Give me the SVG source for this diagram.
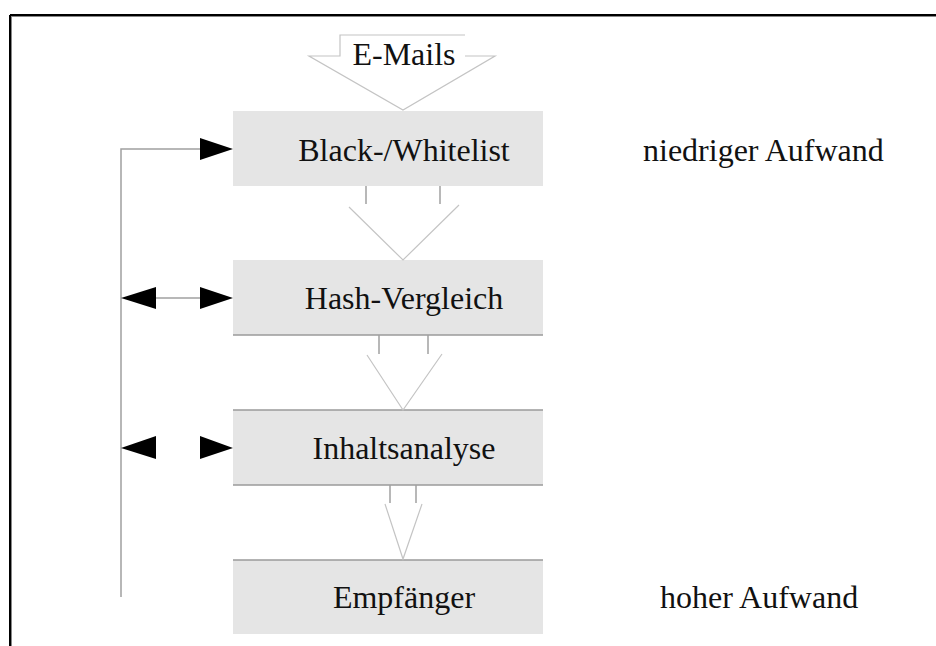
<svg xmlns="http://www.w3.org/2000/svg" width="936" height="646" viewBox="0 0 936 646">
  <style>
    .txt { font-family: "Liberation Serif", "Times New Roman", serif; font-size: 32px; fill: #111; }
    .mid { text-anchor: middle; }
    .box { fill: #e5e5e5; }
    .edge { stroke: #9a9a9a; stroke-width: 1.5; fill: none; }
    .flow { stroke: #c4c4c4; stroke-width: 1.2; fill: none; }
    .stub { stroke: #a0a0a0; stroke-width: 1.5; fill: none; }
    .fb { stroke: #a0a0a0; stroke-width: 1.5; fill: none; }
    .head { fill: #000; }
  </style>

  <rect width="936" height="646" fill="#fff"/>

  <!-- frame -->
  <g id="frame">
    <line x1="10" y1="15" x2="936" y2="15" stroke="#000" stroke-width="2"/>
    <line x1="10" y1="16.5" x2="936" y2="16.5" stroke="#888" stroke-width="1"/>
    <line x1="10" y1="15" x2="10" y2="646" stroke="#000" stroke-width="2"/>
    <line x1="11.5" y1="16" x2="11.5" y2="646" stroke="#888" stroke-width="1"/>
  </g>

  <!-- input label with arrow -->
  <g id="emails">
    <polyline class="flow" stroke="#999" points="465,35 340,35 340,56 309,56 403,110 495,56 465,56"/>
    <text class="txt mid" x="404" y="65">E-Mails</text>
  </g>

  <g id="blackwhitelist">
    <rect class="box" x="233" y="111" width="310" height="75"/>
    <text class="txt mid" x="404" y="161">Black-/Whitelist</text>
  </g>

  <g id="hash">
    <rect class="box" x="233" y="260" width="310" height="75"/>
    <line class="edge" x1="233" y1="335" x2="543" y2="335"/>
    <text class="txt mid" x="404" y="309">Hash-Vergleich</text>
  </g>

  <g id="inhalt">
    <rect class="box" x="233" y="410" width="310" height="75"/>
    <line class="edge" x1="233" y1="410" x2="543" y2="410"/>
    <line class="edge" x1="233" y1="485" x2="543" y2="485"/>
    <text class="txt mid" x="404" y="459">Inhaltsanalyse</text>
  </g>

  <g id="empfaenger">
    <rect class="box" x="233" y="560" width="310" height="74"/>
    <line class="edge" x1="233" y1="560" x2="543" y2="560"/>
    <text class="txt mid" x="404" y="608">Empfänger</text>
  </g>

  <g id="label-low">
    <text class="txt" x="643" y="161">niedriger Aufwand</text>
  </g>
  <g id="label-high">
    <text class="txt" x="660" y="608">hoher Aufwand</text>
  </g>

  <g id="connectors">
    <!-- hollow arrows between stages -->
    <line class="stub" x1="366" y1="186" x2="366" y2="204"/>
    <line class="stub" x1="440" y1="186" x2="440" y2="204"/>
    <polyline class="flow" points="349,207 403,260 459,205"/>

    <line class="stub" x1="379" y1="335" x2="379" y2="354"/>
    <line class="stub" x1="428" y1="335" x2="428" y2="354"/>
    <polyline class="flow" points="367,355 403,410 442,354"/>

    <line class="stub" x1="390" y1="485" x2="390" y2="503"/>
    <line class="stub" x1="416" y1="485" x2="416" y2="503"/>
    <polyline class="flow" points="385,504 403,559 422,504"/>

    <!-- feedback line -->
    <polyline class="fb" points="121,597 121,149 200,149"/>
    <polygon class="head" points="200,138 233,149 200,160"/>

    <line class="fb" x1="156" y1="298" x2="200" y2="298"/>
    <polygon class="head" points="156,287 121,298 156,309"/>
    <polygon class="head" points="200,287 233,298 200,309"/>

    <polygon class="head" points="156,436 121,448 156,459"/>
    <polygon class="head" points="200,436 233,448 200,459"/>
  </g>
</svg>
